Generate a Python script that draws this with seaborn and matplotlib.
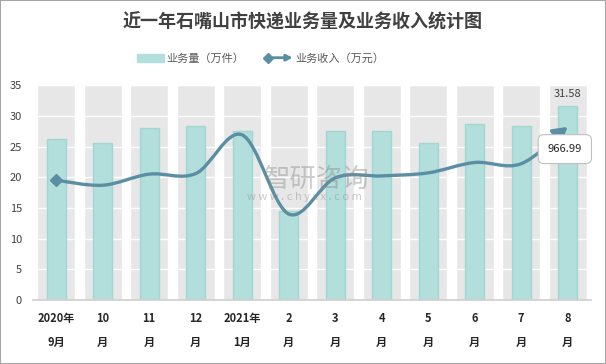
import numpy as np
import matplotlib
matplotlib.use("Agg")
import matplotlib.pyplot as plt
import seaborn as sns
from matplotlib.path import Path
from matplotlib.patches import FancyArrowPatch, Patch, Rectangle
from matplotlib.lines import Line2D
from matplotlib.legend_handler import HandlerBase

# Chart data
months = ["2020年\n9月", "10\n月", "11\n月", "12\n月", "2021年\n1月", "2\n月",
          "3\n月", "4\n月", "5\n月", "6\n月", "7\n月", "8\n月"]
volume = [26.2, 25.5, 28.1, 28.4, 27.6, 14.5, 27.5, 27.5, 25.5, 28.6, 28.3, 31.58]   # 万件
revenue = [669, 641, 703, 706, 922, 480, 682, 693, 710, 768, 761, 966.99]           # 万元
bg_height = [35] * len(months)

BAR = "#B2DFDB"
BAR_EDGE = "#A2D7D1"
BG = "#E7E7E7"
LINE = "#5A8EA3"
TXT = "#404040"

sns.set_theme(style="white")
plt.rcParams["font.family"] = ["Noto Sans CJK SC", "DejaVu Sans"]

fig = plt.figure(figsize=(6.06, 3.64), dpi=100)
ax = fig.add_axes([0.0545, 0.176, 0.9205, 0.590])

x = np.arange(len(months))

# grey background columns, white grid, then the teal bars
sns.barplot(x=x, y=bg_height, color=BG, width=0.82, saturation=1, ax=ax, zorder=0)
for g in range(5, 36, 5):
    ax.axhline(g, color="white", lw=1, zorder=1)
sns.barplot(x=x, y=volume, color=BAR, width=0.41, saturation=1, ax=ax, zorder=2,
            edgecolor=BAR_EDGE, linewidth=1)

ax.set_xlim(-0.5, len(months) - 0.5)
ax.set_ylim(0, 35)
ax.set_yticks(range(0, 36, 5))
ax.tick_params(axis="y", labelsize=8, labelcolor=TXT, length=0, pad=8)
ax.set_xticks(x)
ax.set_xticklabels(months, fontsize=8, fontweight="bold", color="#262626", linespacing=2.1)
ax.set_xticks(np.arange(-0.5, len(months), 1), minor=True)
ax.tick_params(axis="x", which="major", length=0, pad=9)
ax.tick_params(axis="x", which="minor", length=4, color="#D0D0D0", width=1)
ax.set_xlabel("")
ax.set_ylabel("")
for s in ["top", "right", "left"]:
    ax.spines[s].set_visible(False)
ax.spines["bottom"].set_color("#D0D0D0")

ax.annotate(f"{volume[-1]:.2f}", xy=(x[-1], volume[-1]), xytext=(0, 5),
            textcoords="offset points", ha="center", va="bottom", fontsize=8, color=TXT)

# revenue on a hidden secondary scale, smoothed curve
ax2 = ax.twinx()
ax2.set_ylim(0, 1200)
ax2.set_yticks([])
for s in ax2.spines.values():
    s.set_visible(False)

pts = np.column_stack([x, revenue]).astype(float)
verts = [pts[0]]
codes = [Path.MOVETO]
n = len(pts)
for i in range(n - 1):
    p_prev = pts[i - 1] if i > 0 else pts[i]
    p_next = pts[i + 2] if i + 2 < n else pts[i + 1]
    c1 = pts[i] + (pts[i + 1] - p_prev) / 6
    c2 = pts[i + 1] - (p_next - pts[i]) / 6
    verts += [c1, c2, pts[i + 1]]
    codes += [Path.CURVE4] * 3
curve = FancyArrowPatch(path=Path(verts, codes), arrowstyle="-|>,head_length=0.6,head_width=0.35",
                        mutation_scale=14, color=LINE, lw=2.4, transform=ax2.transData, zorder=5)
ax2.add_patch(curve)
ax2.plot([x[0]], [revenue[0]], marker="D", ms=6, color=LINE, zorder=6)

ax2.annotate(f"{revenue[-1]:.2f}", xy=(x[-1], revenue[-1]), xytext=(-2, -16),
             textcoords="offset points", ha="center", va="center", fontsize=8, color="#262626",
             bbox=dict(boxstyle="round,pad=0.85,rounding_size=0.5", fc="white", ec="#BFBFBF", lw=0.8),
             zorder=7, annotation_clip=False)

# watermark
fig.text(0.522, 0.508, "智研咨询", fontsize=19, color="#8C8C8C", alpha=0.45, ha="center", va="center")
fig.text(0.503, 0.458, "w w w . c h y x x . c o m", fontsize=8, color="#8C8C8C", alpha=0.45,
         ha="center", va="center")

# title and legend
fig.text(0.5, 0.94, "近一年石嘴山市快递业务量及业务收入统计图", ha="center", va="center",
         fontsize=13, fontweight="bold", color=TXT)


class ArrowLineHandler(HandlerBase):
    def create_artists(self, legend, orig_handle, xdescent, ydescent, width, height, fontsize, trans):
        y = height / 2 - ydescent
        arr = FancyArrowPatch((-xdescent, y), (width - xdescent, y), arrowstyle="-|>",
                              mutation_scale=9, shrinkA=0, shrinkB=0, color=LINE, lw=2, transform=trans)
        dia = Line2D([-xdescent + 1], [y], marker="D", ms=5, color=LINE, transform=trans)
        return [arr, dia]


rev_handle = Line2D([], [], color=LINE)
handles = [Patch(facecolor=BAR, edgecolor=BAR), rev_handle]
fig.legend(handles, ["业务量（万件）", "业务收入（万元）"], loc="center", bbox_to_anchor=(0.43, 0.84),
           ncol=2, frameon=False, fontsize=8, handlelength=2.4, columnspacing=2.0, handletextpad=0.2,
           labelcolor="#595959", handler_map={rev_handle: ArrowLineHandler()})

fig.patches.append(Rectangle((0, 0), 1, 1, transform=fig.transFigure, fill=False,
                             edgecolor="#A6A6A6", lw=1.5))

fig.savefig("out.png", dpi=100)
